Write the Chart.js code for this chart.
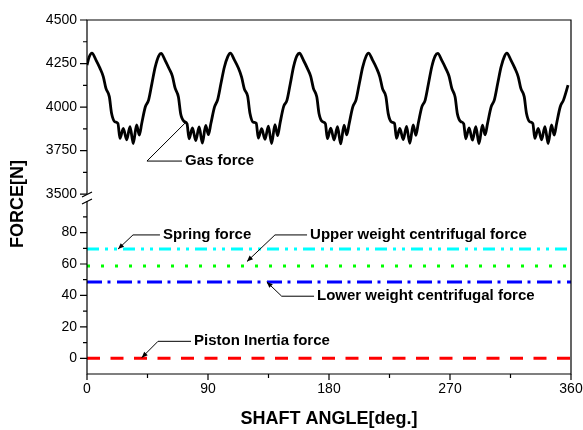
<!DOCTYPE html>
<html>
<head>
<meta charset="utf-8">
<script src="https://cdn.jsdelivr.net/npm/chart.js@4"></script>
<style>
  html, body { margin: 0; padding: 0; background: #fff; }
</style>
</head>
<body>
<canvas id="chart" width="583" height="430"></canvas>
<script>
// shaft angle [deg] / gas force [N] (7 pulses per turn)
const gasAngle = [
  0, 1.6,
  3.7, 6.7, 9.7, 12.1, 14.1, 16.6, 18.3, 20.8, 23.0, 24.5, 27.0, 29.5, 32.0, 34.4, 36.9, 38.9, 40.7, 43.4, 45.8, 48.3, 50.8, 53.3,
  55.1, 58.1, 61.1, 63.5, 65.5, 68.0, 69.7, 72.2, 74.4, 75.9, 78.4, 80.9, 83.4, 85.8, 88.3, 90.3, 92.1, 94.8, 97.2, 99.7, 102.2, 104.7,
  106.6, 109.6, 112.6, 115.0, 117.0, 119.5, 121.2, 123.7, 125.9, 127.4, 129.9, 132.4, 134.9, 137.3, 139.8, 141.8, 143.6, 146.3, 148.7, 151.2, 153.7, 156.2,
  158.0, 161.0, 164.0, 166.4, 168.4, 170.9, 172.6, 175.1, 177.3, 178.8, 181.3, 183.8, 186.3, 188.7, 191.2, 193.2, 195.0, 197.7, 200.1, 202.6, 205.1, 207.6,
  209.4, 212.4, 215.4, 217.8, 219.8, 222.3, 224.0, 226.5, 228.7, 230.2, 232.7, 235.2, 237.7, 240.1, 242.6, 244.6, 246.4, 249.1, 251.5, 254.0, 256.5, 259.0,
  260.9, 263.9, 266.9, 269.3, 271.3, 273.8, 275.5, 278.0, 280.2, 281.7, 284.2, 286.7, 289.2, 291.6, 294.1, 296.1, 297.9, 300.6, 303.0, 305.5, 308.0, 310.5,
  312.3, 315.3, 318.3, 320.7, 322.7, 325.2, 326.9, 329.4, 331.6, 333.1, 335.6, 338.1, 340.6, 343.0, 345.5, 347.5, 349.3, 352.0, 354.4, 357.8
];
const gasForce = [
  4241, 4288,
  4310, 4270, 4222, 4175, 4107, 4060, 3963, 3915, 3906, 3820, 3878, 3812, 3888, 3791, 3897, 3839, 3906, 4002, 4040, 4136, 4232, 4293,
  4308, 4268, 4220, 4178, 4110, 4058, 3960, 3918, 3904, 3818, 3880, 3808, 3886, 3793, 3895, 3842, 3904, 4000, 4043, 4138, 4230, 4290,
  4310, 4271, 4224, 4172, 4105, 4062, 3965, 3913, 3907, 3822, 3876, 3815, 3890, 3790, 3899, 3836, 3908, 4004, 4038, 4134, 4234, 4295,
  4309, 4269, 4221, 4176, 4108, 4059, 3962, 3916, 3905, 3819, 3879, 3811, 3887, 3789, 3896, 3840, 3905, 4001, 4041, 4137, 4231, 4292,
  4310, 4270, 4223, 4174, 4106, 4061, 3964, 3914, 3906, 3821, 3877, 3813, 3889, 3792, 3898, 3838, 3907, 4003, 4039, 4135, 4233, 4294,
  4308, 4268, 4221, 4177, 4109, 4058, 3961, 3917, 3904, 3818, 3881, 3810, 3887, 3790, 3896, 3841, 3905, 4001, 4042, 4137, 4231, 4291,
  4310, 4270, 4222, 4175, 4107, 4060, 3963, 3915, 3906, 3820, 3878, 3812, 3888, 3791, 3897, 3839, 3906, 4002, 4040, 4126
];

// the small forces are flat over the whole turn
const flatAngle = [0, 360];
const springForce = [69.5, 69.5];
const upperWeightForce = [58.7, 58.7];
const lowerWeightForce = [48.6, 48.6];
const pistonInertiaForce = [0, 0];

// callout labels: tip / elbow / text start, in data units of the given axis
const notes = [
  { text: 'Gas force', axis: 'yGas', tip: [72.9, 3908], elbow: [44.6, 3690], textAt: 72.9, arrow: false },
  { text: 'Spring force', axis: 'yLow', tip: [23.1, 69.5], elbow: [34.2, 78.5], textAt: 56.5, arrow: true },
  { text: 'Upper weight centrifugal force', axis: 'yLow', tip: [119.0, 61.6], elbow: [139.8, 78.5], textAt: 165.9, arrow: true },
  { text: 'Lower weight centrifugal force', axis: 'yLow', tip: [133.7, 48.6], elbow: [144.8, 39.5], textAt: 171.1, arrow: true },
  { text: 'Piston Inertia force', axis: 'yLow', tip: [40.7, 0.4], elbow: [52.8, 10.8], textAt: 79.6, arrow: true }
];

const FONT = "'Liberation Sans', Arial, sans-serif";
const pts = (xs, ys) => xs.map((x, i) => ({ x: x, y: ys[i] }));

const decor = {
  id: 'decor',
  afterDraw(chart) {
    const { ctx, chartArea: a, scales } = chart;
    const sx = scales.x, yg = scales.yGas, yl = scales.yLow;
    const brk = yg.bottom;
    ctx.save();
    ctx.strokeStyle = '#000';
    ctx.lineWidth = 1.2;

    // frame, with a gap in the left axis at the break
    ctx.beginPath();
    ctx.moveTo(a.left, brk - 4);
    ctx.lineTo(a.left, a.top);
    ctx.lineTo(a.right, a.top);
    ctx.lineTo(a.right, a.bottom);
    ctx.lineTo(a.left, a.bottom);
    ctx.lineTo(a.left, brk + 3);
    ctx.stroke();

    ctx.beginPath();
    ctx.moveTo(a.left - 5, brk - 1); ctx.lineTo(a.left + 5, brk - 6);
    ctx.moveTo(a.left - 5, brk + 6); ctx.lineTo(a.left + 5, brk + 1);
    ctx.stroke();

    // tick marks
    ctx.beginPath();
    yg.ticks.forEach(t => {
      const y = yg.getPixelForValue(t.value);
      const len = t.value % 250 === 0 ? 7 : 4;
      ctx.moveTo(a.left - len, y); ctx.lineTo(a.left, y);
    });
    yl.ticks.forEach(t => {
      if (t.value < 0 || t.value > 95) return;
      const y = yl.getPixelForValue(t.value);
      const len = t.value % 20 === 0 ? 7 : 4;
      ctx.moveTo(a.left - len, y); ctx.lineTo(a.left, y);
    });
    sx.ticks.forEach(t => {
      const x = sx.getPixelForValue(t.value);
      const len = t.value % 90 === 0 ? 6 : 4;
      ctx.moveTo(x, a.bottom); ctx.lineTo(x, a.bottom + len);
    });
    ctx.stroke();

    // y title
    ctx.fillStyle = '#000';
    ctx.font = 'bold 18px ' + FONT;
    ctx.textAlign = 'center';
    ctx.textBaseline = 'middle';
    ctx.save();
    ctx.translate(18.5, (a.top + a.bottom) / 2 + 7);
    ctx.rotate(-Math.PI / 2);
    ctx.fillText('FORCE[N]', 0, 0);
    ctx.restore();

    // callouts
    ctx.font = 'bold 15px ' + FONT;
    ctx.textAlign = 'left';
    ctx.lineWidth = 1;
    notes.forEach(n => {
      const ys = scales[n.axis];
      const tx = sx.getPixelForValue(n.tip[0]), ty = ys.getPixelForValue(n.tip[1]);
      const ex = sx.getPixelForValue(n.elbow[0]), ey = ys.getPixelForValue(n.elbow[1]);
      const lx = sx.getPixelForValue(n.textAt);
      ctx.beginPath();
      ctx.moveTo(lx - 3, ey);
      ctx.lineTo(ex, ey);
      ctx.lineTo(tx, ty);
      ctx.stroke();
      if (n.arrow) {
        const ang = Math.atan2(ty - ey, tx - ex);
        ctx.beginPath();
        ctx.moveTo(tx, ty);
        ctx.lineTo(tx - 6 * Math.cos(ang) + 2.5 * Math.sin(ang), ty - 6 * Math.sin(ang) - 2.5 * Math.cos(ang));
        ctx.lineTo(tx - 6 * Math.cos(ang) - 2.5 * Math.sin(ang), ty - 6 * Math.sin(ang) + 2.5 * Math.cos(ang));
        ctx.closePath();
        ctx.fill();
      }
      ctx.fillText(n.text, lx, ey);
    });
    ctx.restore();
  }
};

const flat = (label, ys, color, dash) => ({
  label: label,
  data: pts(flatAngle, ys),
  yAxisID: 'yLow',
  borderColor: color,
  borderWidth: 3,
  borderDash: dash,
  pointRadius: 0,
  fill: false
});

new Chart(document.getElementById('chart'), {
  type: 'line',
  data: {
    datasets: [
      {
        label: 'Gas force',
        data: pts(gasAngle, gasForce),
        yAxisID: 'yGas',
        borderColor: '#000',
        borderWidth: 2.8,
        pointRadius: 0,
        cubicInterpolationMode: 'monotone',
        fill: false
      },
      flat('Spring force', springForce, '#00ffff', [12, 6, 3, 6, 3, 6]),
      flat('Upper weight centrifugal force', upperWeightForce, '#00ff00', [3, 11]),
      flat('Lower weight centrifugal force', lowerWeightForce, '#0000ff', [15, 5.5, 3, 6.5]),
      flat('Piston Inertia force', pistonInertiaForce, '#ff0000', [13, 10.5])
    ]
  },
  options: {
    responsive: false,
    animation: false,
    layout: { padding: { top: 20, right: 12, left: 0, bottom: 0 } },
    plugins: { legend: { display: false }, tooltip: { enabled: false } },
    scales: {
      x: {
        type: 'linear',
        min: 0,
        max: 360,
        grid: { display: false, drawTicks: false },
        border: { display: false },
        ticks: {
          stepSize: 45,
          autoSkip: false,
          maxRotation: 0,
          padding: 7,
          color: '#000',
          font: { family: FONT, size: 14 },
          callback: v => (v % 90 === 0 ? v : '')
        },
        title: {
          display: true,
          text: 'SHAFT ANGLE[deg.]',
          color: '#000',
          font: { family: FONT, size: 18, weight: 'bold' },
          padding: { top: 0, bottom: 0 }
        },
        afterFit: s => { s.height = 56; s.paddingLeft = 0; s.paddingRight = 0; }
      },
      yLow: {
        type: 'linear',
        position: 'left',
        stack: 'force',
        stackWeight: 176,
        min: -10,
        max: 102,
        grid: { display: false, drawTicks: false },
        border: { display: false },
        ticks: {
          stepSize: 10,
          includeBounds: false,
          autoSkip: false,
          padding: 10,
          color: '#000',
          font: { family: FONT, size: 14 },
          callback: v => (v % 20 === 0 && v >= 0 && v <= 80 ? v : '')
        },
        afterFit: s => { s.width = 87; }
      },
      yGas: {
        type: 'linear',
        position: 'left',
        stack: 'force',
        stackWeight: 178,
        min: 3478,
        max: 4500,
        grid: { display: false, drawTicks: false },
        border: { display: false },
        ticks: {
          stepSize: 125,
          includeBounds: false,
          autoSkip: false,
          padding: 10,
          color: '#000',
          font: { family: FONT, size: 14 },
          callback: v => (v % 250 === 0 ? v : '')
        },
        afterFit: s => { s.width = 87; }
      }
    }
  },
  plugins: [decor]
});
</script>
</body>
</html>
